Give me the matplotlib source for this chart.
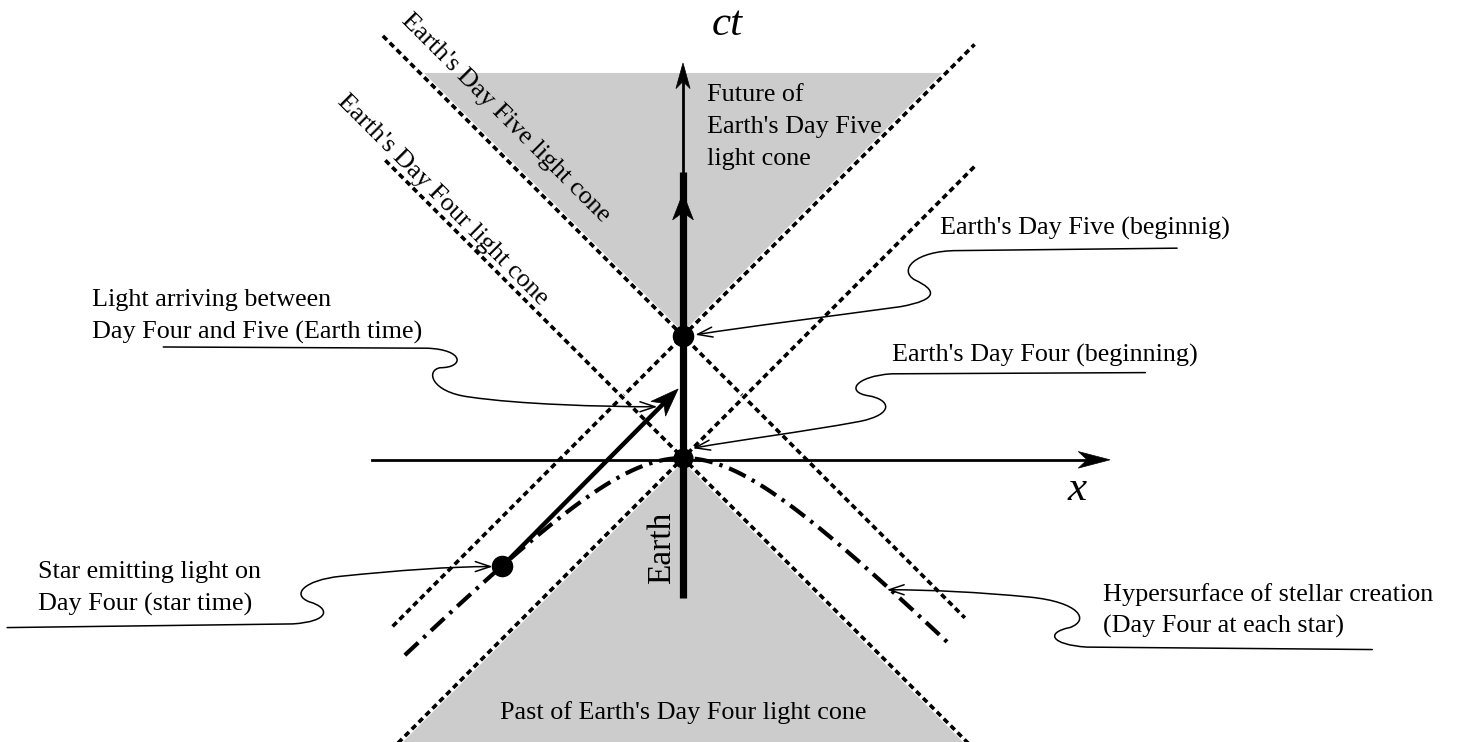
import numpy as np
import matplotlib
matplotlib.use('Agg')
import matplotlib.pyplot as plt
from matplotlib.path import Path
from matplotlib.patches import Polygon, FancyArrowPatch

plt.rcParams['font.family'] = ['Liberation Serif', 'DejaVu Serif']

# spacetime units: one Earth day = 1 in ct, light moves at 45 degrees
day_four = (0.0, 0.0)
day_five = (0.0, 1.0)
star = (-1.48, -0.885)
light_tip = (-0.04, 0.566)
hyper_a = 0.8
hyper_x = (-2.28, 2.17)

# light cone lines: (apex ct, slope, x start, x end)
cone_lines = [
    (1.0, -1.0, -2.46, 2.31),
    (1.0, 1.0, -2.38, 2.39),
    (0.0, -1.0, -2.44, 2.40),
    (0.0, 1.0, -2.40, 2.39),
]
future_top = 3.156
past_bottom = -2.40

earth_bottom = -1.148
earth_thick_top = 2.344
earth_mid_arrow = 2.172
ct_axis_top = 3.238
x_axis = (-2.55, 3.50, -0.015)

# leader curves (cubic Bezier segments) ending with an arrow head
leaders = {
    'five': [(4.05, 1.72), (2.25, 1.70),
             (1.90, 1.70), (1.76, 1.54), (1.90, 1.46),
             (2.07, 1.38), (2.11, 1.30), (1.78, 1.24),
             (1.12, 1.15), (0.55, 1.08), (0.10, 1.01)],
    'four': [(3.79, 0.70), (1.71, 0.69),
             (1.41, 0.67), (1.33, 0.54), (1.52, 0.51),
             (1.70, 0.48), (1.74, 0.36), (1.45, 0.30),
             (0.96, 0.21), (0.47, 0.15), (0.08, 0.08)],
    'light': [(-4.26, 0.91), (-2.10, 0.90),
              (-1.79, 0.89), (-1.79, 0.74), (-1.99, 0.74),
              (-2.11, 0.72), (-2.07, 0.54), (-1.75, 0.50),
              (-1.34, 0.44), (-0.68, 0.42), (-0.21, 0.42)],
    'star': [(-5.54, -1.39), (-3.20, -1.36),
             (-2.89, -1.34), (-2.89, -1.23), (-3.06, -1.18),
             (-3.22, -1.12), (-3.10, -1.00), (-2.81, -0.97),
             (-2.32, -0.92), (-1.91, -0.89), (-1.56, -0.89)],
    'hyper': [(5.65, -1.57), (3.31, -1.55),
              (3.01, -1.53), (2.97, -1.43), (3.17, -1.39),
              (3.34, -1.33), (3.25, -1.18), (2.84, -1.14),
              (2.43, -1.10), (2.02, -1.08), (1.67, -1.08)],
}

# text, x, y of first line centre
labels = [
    ("Future of\nEarth's Day Five\nlight cone", 0.197, 2.992),
    ("Earth's Day Five (beginnig)", 2.107, 1.902),
    ("Earth's Day Four (beginning)", 1.713, 0.861),
    ("Light arriving between\nDay Four and Five (Earth time)", -4.844, 1.312),
    ("Star emitting light on\nDay Four (star time)", -5.287, -0.918),
    ("Hypersurface of stellar creation\n(Day Four at each star)", 3.443, -1.098),
]

GRAY = '#cccccc'
FS = 18.8
LINE_GAP = 32 / 122


def stealth(ax, tip, direction, length, half_width, z=5):
    d = np.array(direction, float)
    d /= np.hypot(*d)
    n = np.array([-d[1], d[0]])
    tip = np.array(tip, float)
    back = tip - d * length
    pts = [tip, back + n * half_width, tip - d * length * 0.72, back - n * half_width]
    ax.add_patch(Polygon(pts, closed=True, fc='black', ec='black', lw=0.5, zorder=z))


fig = plt.figure(figsize=(14.57, 7.42), dpi=100)
ax = fig.add_axes([0, 0, 1, 1])
ax.set_xlim(-683 / 122, (1457 - 683) / 122)
ax.set_ylim((458 - 742) / 122, 458 / 122)
ax.axis('off')

# shaded future / past regions
h = future_top - day_five[1]
ax.add_patch(Polygon([day_five, (-h, future_top), (h, future_top)],
                     closed=True, fc=GRAY, ec='none', zorder=0))
ax.add_patch(Polygon([day_four, (past_bottom, past_bottom), (-past_bottom, past_bottom)],
                     closed=True, fc=GRAY, ec='none', zorder=0))

# light cones
for apex, slope, x0, x1 in cone_lines:
    xs = np.array([x0, x1])
    ys = apex + slope * xs
    ax.plot(xs, ys, color='white', lw=4.0, solid_capstyle='butt', zorder=2)
    ax.plot(xs, ys, color='black', lw=2.6, linestyle=(0, (1.6, 1.1)),
            dash_capstyle='butt', zorder=2)

# hypersurface of stellar creation
hx = np.linspace(hyper_x[0], hyper_x[1], 300)
hy = hyper_a - np.sqrt(hyper_a ** 2 + hx ** 2)
ax.plot(hx, hy, color='black', lw=3.0, linestyle=(0, (4.4, 1.7, 0.8, 1.7)),
        dash_capstyle='butt', zorder=3)

# x axis
ax.plot([x_axis[0], x_axis[1] - 0.15], [x_axis[2]] * 2, color='black', lw=2.0, zorder=3)
stealth(ax, (x_axis[1], x_axis[2]), (1, 0), 0.26, 0.068, z=3)

# Earth world line
ax.plot([0, 0], [earth_bottom, earth_thick_top], color='black', lw=5.2,
        solid_capstyle='butt', zorder=4)
ax.plot([0, 0], [earth_thick_top, ct_axis_top - 0.1], color='black', lw=2.0, zorder=4)
stealth(ax, (0, ct_axis_top), (0, 1), 0.21, 0.058, z=4)
stealth(ax, (0, earth_mid_arrow), (0, 1), 0.22, 0.085, z=4)

# light from the star
ax.plot([star[0], light_tip[0] - 0.1], [star[1], light_tip[1] - 0.1],
        color='black', lw=3.2, solid_capstyle='butt', zorder=4)
stealth(ax, light_tip, (1, 1), 0.23, 0.085, z=4)

# events
ax.plot(*day_five, 'o', ms=14.5, color='black', zorder=5)
ax.plot(*day_four, 'o', ms=13.5, color='black', zorder=5)
ax.plot(*star, 'o', ms=14.5, color='black', zorder=5)

# leaders
for pts in leaders.values():
    codes = [Path.MOVETO, Path.LINETO] + [Path.CURVE4] * 9
    path = Path(pts, codes)
    ax.add_patch(FancyArrowPatch(path=path,
                                 arrowstyle='->,head_length=0.9,head_width=0.3',
                                 mutation_scale=12, lw=1.1, color='black',
                                 zorder=6))

for txt, x, y in labels:
    for i, line in enumerate(txt.split('\n')):
        ax.text(x, y - i * LINE_GAP, line, fontsize=FS, ha='left',
                va='center_baseline', zorder=7)

ax.text(0, -2.066, "Past of Earth's Day Four light cone", fontsize=FS,
        ha='center', va='center_baseline', zorder=7)
ax.text(-0.172, -0.738, 'Earth', fontsize=24, rotation=90,
        ha='center', va='center', zorder=7)
ax.text(-1.451, 2.787, "Earth's Day Five light cone", fontsize=FS,
        rotation=-45, ha='center', va='center', rotation_mode='anchor', zorder=7)
ax.text(-1.967, 2.115, "Earth's Day Four light cone", fontsize=FS,
        rotation=-45, ha='center', va='center', rotation_mode='anchor', zorder=7)

ax.text(0.36, 3.467, 'ct', fontsize=31, fontstyle='italic',
        ha='center', va='baseline', zorder=7)
ax.text(3.23, -0.344, 'x', fontsize=31, fontstyle='italic',
        ha='center', va='baseline', zorder=7)

fig.savefig('out.png', dpi=100)
